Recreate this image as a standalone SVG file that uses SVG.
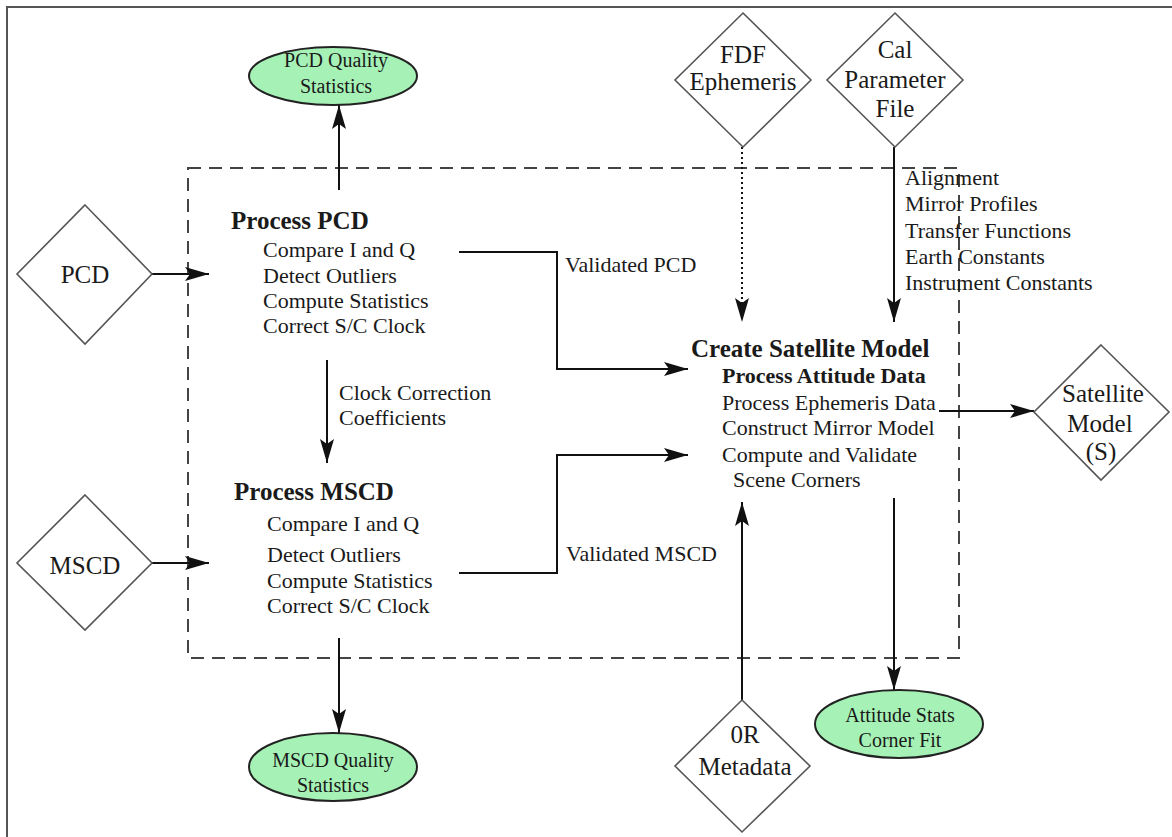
<svg xmlns="http://www.w3.org/2000/svg" width="1172" height="837" viewBox="0 0 1172 837">
<style>
text{font-family:"Liberation Serif","Times New Roman",serif;fill:#1a1a1a}
.t{font-size:22px}
.h{font-size:25px;font-weight:bold}
.hb{font-size:22px;font-weight:bold}
.d{font-size:25px;text-anchor:middle}
.e{font-size:20px;text-anchor:middle}
.dia{fill:#fff;stroke:#555;stroke-width:1.6}
.ell{fill:#a6f2b6;stroke:#222;stroke-width:2}
.c{fill:none;stroke:#111;stroke-width:2}
</style>
<defs>
<marker id="ah" viewBox="0 0 24 14" refX="24" refY="7" markerWidth="24" markerHeight="14" markerUnits="userSpaceOnUse" orient="auto">
<path d="M0,0 L24,7 L0,14 L5,7 z" fill="#111"/>
</marker>
</defs>
<rect width="1172" height="837" fill="#fff"/>
<path d="M7,837 V7 H1172" fill="none" stroke="#555" stroke-width="2"/>
<rect id="boundary" x="188" y="168" width="771" height="490" fill="none" stroke="#444" stroke-width="2" stroke-dasharray="13 8"/>

<g id="connectors">
<line class="c" x1="339" y1="190" x2="339" y2="105" marker-end="url(#ah)"/>
<line class="c" x1="152" y1="274" x2="209" y2="274" marker-end="url(#ah)"/>
<line class="c" x1="152" y1="563" x2="209" y2="563" marker-end="url(#ah)"/>
<polyline class="c" points="459,252 557,252 557,369 688,369" marker-end="url(#ah)"/>
<polyline class="c" points="459,573 557,573 557,455 688,455" marker-end="url(#ah)"/>
<line class="c" x1="327" y1="360" x2="327" y2="463" marker-end="url(#ah)"/>
<line class="c" x1="742" y1="147" x2="742" y2="322" stroke-dasharray="2 3" marker-end="url(#ah)"/>
<line class="c" x1="894" y1="147" x2="894" y2="322" marker-end="url(#ah)"/>
<line class="c" x1="939" y1="411" x2="1034" y2="411" marker-end="url(#ah)"/>
<line class="c" x1="742" y1="700" x2="742" y2="502" marker-end="url(#ah)"/>
<line class="c" x1="894" y1="498" x2="894" y2="690" marker-end="url(#ah)"/>
<line class="c" x1="339" y1="638" x2="339" y2="733" marker-end="url(#ah)"/>
<text class="t" x="565" y="272">Validated PCD</text>
<text class="t" x="566" y="561">Validated MSCD</text>
<text class="t" x="339" y="400">Clock Correction</text>
<text class="t" x="339" y="425">Coefficients</text>
<text class="t" x="905" y="185">Alignment</text>
<text class="t" x="905" y="211">Mirror Profiles</text>
<text class="t" x="905" y="238">Transfer Functions</text>
<text class="t" x="905" y="264">Earth Constants</text>
<text class="t" x="905" y="290">Instrument Constants</text>
</g>

<g id="pcd-quality">
<ellipse class="ell" cx="333" cy="76" rx="84" ry="29"/>
<text class="e" x="336" y="67">PCD Quality</text>
<text class="e" x="336" y="93">Statistics</text>
</g>

<g id="pcd">
<polygon class="dia" points="85,205 152,274 85,344 17,274"/>
<text class="d" x="85" y="283">PCD</text>
</g>

<g id="mscd">
<polygon class="dia" points="85,495 152,563 85,630 17,563"/>
<text class="d" x="85" y="574">MSCD</text>
</g>

<g id="fdf">
<polygon class="dia" points="743,13 811,80 743,147 675,80"/>
<text class="d" x="743" y="63">FDF</text>
<text class="d" x="743" y="90">Ephemeris</text>
</g>

<g id="cal">
<polygon class="dia" points="895,13 963,80 895,147 827,80"/>
<text class="d" x="895" y="58">Cal</text>
<text class="d" x="895" y="88">Parameter</text>
<text class="d" x="895" y="117">File</text>
</g>

<g id="satellite-model">
<polygon class="dia" points="1101,345 1169,412 1101,480 1034,412"/>
<text class="d" x="1103" y="402">Satellite</text>
<text class="d" x="1100" y="432">Model</text>
<text class="d" x="1101" y="460">(S)</text>
</g>

<g id="or-metadata">
<polygon class="dia" points="742,700 810,766 742,832 675,766"/>
<text class="d" x="745" y="743">0R</text>
<text class="d" x="745" y="775">Metadata</text>
</g>

<g id="process-pcd">
<text class="h" x="231" y="229">Process PCD</text>
<text class="t" x="263" y="257">Compare I and Q</text>
<text class="t" x="263" y="283">Detect Outliers</text>
<text class="t" x="263" y="308">Compute Statistics</text>
<text class="t" x="263" y="333">Correct S/C Clock</text>
</g>

<g id="process-mscd">
<text class="h" x="234" y="500">Process MSCD</text>
<text class="t" x="267" y="531">Compare I and Q</text>
<text class="t" x="267" y="562">Detect Outliers</text>
<text class="t" x="267" y="588">Compute Statistics</text>
<text class="t" x="267" y="613">Correct S/C Clock</text>
</g>

<g id="create-satellite-model">
<text class="h" x="691" y="357">Create Satellite Model</text>
<text class="hb" x="722" y="383">Process Attitude Data</text>
<text class="t" x="722" y="410">Process Ephemeris Data</text>
<text class="t" x="722" y="435">Construct Mirror Model</text>
<text class="t" x="722" y="462">Compute and Validate</text>
<text class="t" x="733" y="487">Scene Corners</text>
</g>

<g id="mscd-quality">
<ellipse class="ell" cx="333" cy="767" rx="84" ry="34"/>
<text class="e" x="333" y="767">MSCD Quality</text>
<text class="e" x="333" y="792">Statistics</text>
</g>

<g id="attitude-stats">
<ellipse class="ell" cx="899" cy="724" rx="84" ry="34"/>
<text class="e" x="900" y="722">Attitude Stats</text>
<text class="e" x="900" y="747">Corner Fit</text>
</g>
</svg>
